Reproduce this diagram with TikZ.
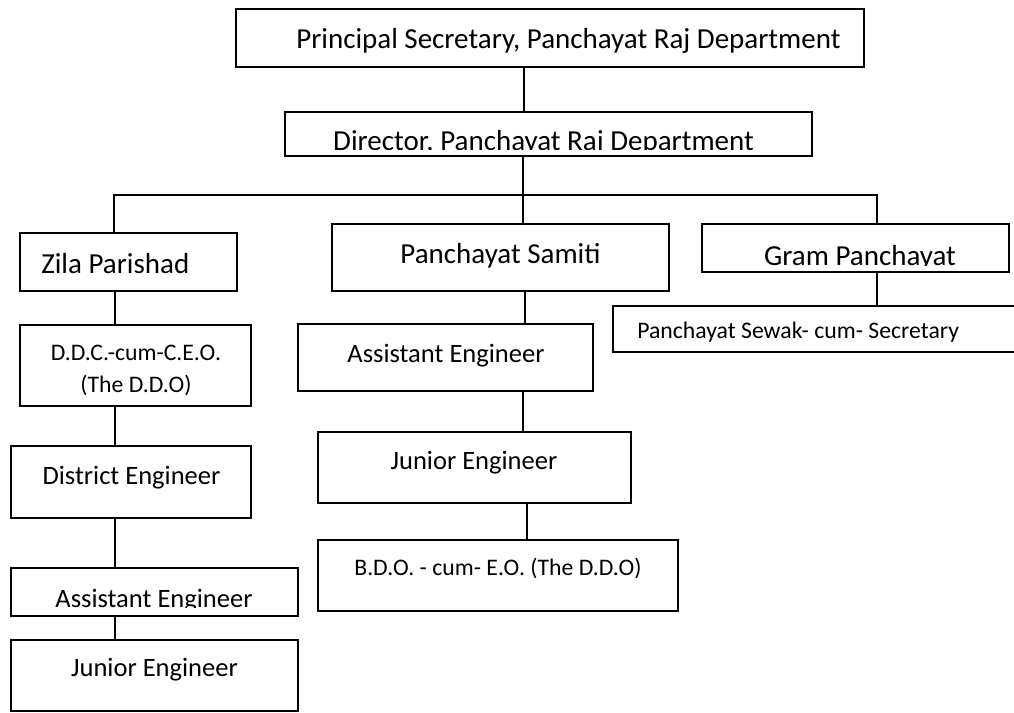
\documentclass[tikz,border=0pt]{standalone}
\usepackage{fontspec}
\setmainfont{Carlito}
\usetikzlibrary{fit}
\begin{document}
\begin{tikzpicture}[x=0.75pt,y=-0.75pt,
  box/.style={draw=black, line width=1.5pt, inner sep=0pt, fill=white},
  link/.style={draw=black, line width=1.3pt},
  big/.style={inner sep=0pt, font=\fontsize{21.75pt}{26pt}\selectfont, anchor=base},
  mid/.style={inner sep=0pt, font=\fontsize{19.9pt}{24pt}\selectfont, anchor=base},
  small/.style={inner sep=0pt, font=\fontsize{17.8pt}{21pt}\selectfont, anchor=base}]
\useasboundingbox[fill=white] (0,0) rectangle (1014,713);

% boxes
\node[box, fit={(236,9) (864,67)}] (pri) {};
\node[box, fit={(285,112) (812,156)}] (dir) {};
\node[box, fit={(20,233) (237,291)}] (zila) {};
\node[box, fit={(332,224) (669,291)}] (sam) {};
\node[box, fit={(702,224) (1009,272)}] (gram) {};
\begin{scope}
\clip (0,0) rectangle (1014,713);
\node[box, fit={(613,306) (1030,352)}] (sew) {};
\end{scope}
\node[box, fit={(20,325) (251,406)}] (ddc) {};
\node[box, fit={(11,446) (251,518)}] (dist) {};
\node[box, fit={(11,568) (298,616)}] (aleft) {};
\node[box, fit={(11,640) (298,711)}] (jleft) {};
\node[box, fit={(298,324) (593,391)}] (amid) {};
\node[box, fit={(318,432) (631,503)}] (jmid) {};
\node[box, fit={(318,540) (678,611)}] (bdo) {};

% connector columns
\coordinate (cA) at (524,0);
\coordinate (cB) at (523,0);
\coordinate (bus) at (0,195);
\coordinate (cZ) at (114,0);
\coordinate (cG) at (877,0);
\coordinate (cL) at (115,0);
\coordinate (cM1) at (525,0);
\coordinate (cM2) at (523,0);
\coordinate (cM3) at (527,0);

\draw[link] (pri.south -| cA) -- (dir.north -| cA);
\draw[link] (dir.south -| cB) -- (sam.north -| cB);
\draw[link] (zila.north -| cZ) -- (bus -| cZ) -- (bus -| cG) -- (gram.north -| cG);
\draw[link] (gram.south -| cG) -- (sew.north -| cG);
\draw[link] (zila.south -| cL) -- (ddc.north -| cL);
\draw[link] (ddc.south -| cL) -- (dist.north -| cL);
\draw[link] (dist.south -| cL) -- (aleft.north -| cL);
\draw[link] (aleft.south -| cL) -- (jleft.north -| cL);
\draw[link] (sam.south -| cM1) -- (amid.north -| cM1);
\draw[link] (amid.south -| cM2) -- (jmid.north -| cM2);
\draw[link] (jmid.south -| cM3) -- (bdo.north -| cM3);

% texts
\node[big, anchor=base west] (pri-t) at (296,49) {Principal Secretary, Panchayat Raj Department};
\begin{scope}
\clip (286,113) rectangle (811,150);
\node[big] (dir-t) at (543.5,150.5) {Director, Panchayat Raj Department};
\end{scope}
\node[big, anchor=base west] (zila-t) at (41,273) {Zila Parishad};
\node[big] (sam-t) at (500.5,263) {Panchayat Samiti};
\begin{scope}
\clip (703,225) rectangle (1008,265);
\node[big] (gram-t) at (860,265.5) {Gram Panchayat};
\end{scope}
\node[small, anchor=base west] (sew-t) at (637,338) {Panchayat Sewak- cum- Secretary};
\node[small] (ddc-t1) at (136,360) {D.D.C.-cum-C.E.O.};
\node[small] (ddc-t2) at (136,392) {(The D.D.O)};
\node[mid] (dist-t) at (131.5,484) {District Engineer};
\begin{scope}
\clip (12,569) rectangle (297,607);
\node[mid] (aleft-t) at (154,607.5) {Assistant Engineer};
\end{scope}
\node[mid] (jleft-t) at (154.5,676) {Junior Engineer};
\node[mid] (amid-t) at (446,362) {Assistant Engineer};
\node[mid] (jmid-t) at (474,469) {Junior Engineer};
\node[small] (bdo-t) at (498,575) {B.D.O. - cum- E.O. (The D.D.O)};
\end{tikzpicture}
\end{document}
